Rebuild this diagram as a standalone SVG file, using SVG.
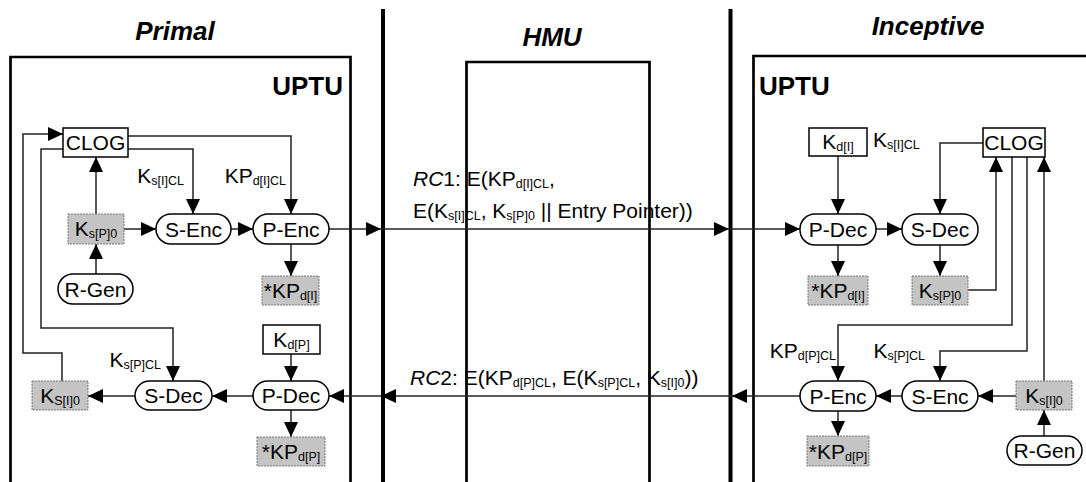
<svg xmlns="http://www.w3.org/2000/svg" width="1086" height="482" viewBox="0 0 1086 482">
<style>
text{font-family:"Liberation Sans",Arial,sans-serif;fill:#000}
.t{font-size:21px}
.title{font-size:26px;font-weight:bold;font-style:italic}
.uptu{font-size:26px;font-weight:bold}
.sub{font-size:12.5px}
.box{fill:#fff;stroke:#000;stroke-width:1.5}
.gbox{fill:#c4c4c4;stroke:#777;stroke-width:1;stroke-dasharray:2 1}
.rnd{fill:#fff;stroke:#000;stroke-width:1.5}
.thick{stroke:#000;stroke-width:4;fill:none}
.frame{stroke:#000;stroke-width:2.7;fill:none}
.c{stroke:#222;stroke-width:1.5;fill:none}
.ca{stroke:#222;stroke-width:1.5;fill:none;marker-end:url(#ah)}
</style>
<defs>
<marker id="ah" markerUnits="userSpaceOnUse" markerWidth="15" markerHeight="14" refX="15" refY="7" orient="auto">
<path d="M0,0 L15,7 L0,14 z" fill="#000"/>
</marker>
</defs>
<rect width="1086" height="482" fill="#fff"/>

<g id="frames">
<path class="thick" d="M383,9 V482"/>
<path class="thick" d="M730.5,9 V482"/>
<path class="frame" d="M10.5,485 V57 H350.5 V485"/>
<path class="frame" d="M466.5,485 V62 H649.5 V485"/>
<path class="frame" d="M753.5,485 V56 H1090"/>
<text class="title" x="175" y="40" text-anchor="middle">Primal</text>
<text class="title" x="552" y="46" text-anchor="middle">HMU</text>
<text class="title" x="928" y="35" text-anchor="middle">Inceptive</text>
<text class="uptu" x="343" y="95" text-anchor="end">UPTU</text>
<text class="uptu" x="759" y="95">UPTU</text>
</g>

<g id="connectors">
<path class="ca" d="M96,214 V157"/>
<path class="ca" d="M96,274 V244"/>
<path class="ca" d="M124,229 H156"/>
<path class="ca" d="M231,229 H253"/>
<path class="ca" d="M128,136 H291 V214"/>
<path class="ca" d="M128,149 H193 V214"/>
<path class="ca" d="M63,149 H41 V328 H173 V381"/>
<path class="ca" d="M62,381 V353 H23 V134 H63"/>
<path class="ca" d="M291,244 V276"/>
<path class="ca" d="M329,229 H381"/>
<path class="ca" d="M381,229 H729"/>
<path class="ca" d="M729,229 H800"/>
<path class="ca" d="M291,354 V381"/>
<path class="ca" d="M253,396 H212"/>
<path class="ca" d="M135,396 H88"/>
<path class="ca" d="M291,410 V437"/>

<path class="ca" d="M838,156 V214"/>
<path class="ca" d="M983,143 H940 V214"/>
<path class="ca" d="M876,229 H902"/>
<path class="ca" d="M838,245 V276"/>
<path class="ca" d="M940,245 V276"/>
<path class="ca" d="M968,290 H996 V157"/>
<path class="ca" d="M1012,157 V325 H838 V381"/>
<path class="ca" d="M1027,157 V351 H940 V381"/>
<path class="ca" d="M1044,381 V157"/>
<path class="ca" d="M1044,436 V410"/>
<path class="ca" d="M1016,396 H978"/>
<path class="ca" d="M902,396 H876"/>
<path class="ca" d="M838,411 V436"/>
<path class="ca" d="M800,396 H732"/>
<path class="ca" d="M732,396 H381"/>
<path class="ca" d="M381,396 H329"/>

<text class="t" x="184" y="183" text-anchor="end">K<tspan class="sub" dy="2">s[I]CL</tspan></text>
<text class="t" x="286" y="183" text-anchor="end">KP<tspan class="sub" dy="2">d[I]CL</tspan></text>
<text class="t" x="161" y="367" text-anchor="end">K<tspan class="sub" dy="2">s[P]CL</tspan></text>
<text class="t" x="873" y="147">K<tspan class="sub" dy="2">s[I]CL</tspan></text>
<text class="t" x="836" y="358" text-anchor="end">KP<tspan class="sub" dy="2">d[P]CL</tspan></text>
<text class="t" x="925" y="358" text-anchor="end">K<tspan class="sub" dy="2">s[P]CL</tspan></text>

<text class="t" x="413" y="186"><tspan font-style="italic">RC</tspan>1: E(KP<tspan class="sub" dy="2">d[I]CL</tspan><tspan dy="-2">,</tspan></text>
<text class="t" x="413" y="218">E(K<tspan class="sub" dy="2">s[I]CL</tspan><tspan dy="-2">, K</tspan><tspan class="sub" dy="2">s[P]0</tspan><tspan dy="-2"> || Entry Pointer))</tspan></text>
<text class="t" x="410" y="385"><tspan font-style="italic">RC</tspan>2: E(KP<tspan class="sub" dy="2">d[P]CL</tspan><tspan dy="-2">, E(K</tspan><tspan class="sub" dy="2">s[P]CL</tspan><tspan dy="-2">, K</tspan><tspan class="sub" dy="2">s[I]0</tspan><tspan dy="-2">))</tspan></text>
</g>

<g id="p-clog"><rect class="box" x="63" y="128" width="65" height="29"/><text class="t" x="95.5" y="150" text-anchor="middle">CLOG</text></g>
<g id="p-ksp0"><rect class="gbox" x="68" y="214" width="56" height="30"/><text class="t" x="96" y="236" text-anchor="middle">K<tspan class="sub" dy="2">s[P]0</tspan></text></g>
<g id="p-rgen"><rect class="rnd" x="58" y="274" width="75" height="30" rx="15"/><text class="t" x="95.5" y="296.5" text-anchor="middle">R-Gen</text></g>
<g id="p-senc"><rect class="rnd" x="156" y="214" width="75" height="30" rx="15"/><text class="t" x="193.5" y="236.5" text-anchor="middle">S-Enc</text></g>
<g id="p-penc"><rect class="rnd" x="253" y="214" width="76" height="30" rx="15"/><text class="t" x="291" y="236.5" text-anchor="middle">P-Enc</text></g>
<g id="p-kpdi"><rect class="gbox" x="262" y="276" width="57" height="29"/><text class="t" x="290.5" y="298" text-anchor="middle">*KP<tspan class="sub" dy="2">d[I]</tspan></text></g>
<g id="p-kdp"><rect class="box" x="263" y="325" width="57" height="29"/><text class="t" x="291.5" y="347" text-anchor="middle">K<tspan class="sub" dy="2">d[P]</tspan></text></g>
<g id="p-pdec"><rect class="rnd" x="253" y="381" width="76" height="29" rx="14.5"/><text class="t" x="291" y="403" text-anchor="middle">P-Dec</text></g>
<g id="p-sdec"><rect class="rnd" x="135" y="381" width="77" height="29" rx="14.5"/><text class="t" x="173.5" y="403" text-anchor="middle">S-Dec</text></g>
<g id="p-ksi0"><rect class="gbox" x="32" y="381" width="56" height="29"/><text class="t" x="60" y="403" text-anchor="middle">K<tspan class="sub" dy="2">S[I]0</tspan></text></g>
<g id="p-kpdp"><rect class="gbox" x="257" y="437" width="68" height="29"/><text class="t" x="291" y="459" text-anchor="middle">*KP<tspan class="sub" dy="2">d[P]</tspan></text></g>

<g id="i-kdi"><rect class="box" x="809" y="128" width="58" height="28"/><text class="t" x="838" y="149" text-anchor="middle">K<tspan class="sub" dy="2">d[I]</tspan></text></g>
<g id="i-clog"><rect class="box" x="983" y="128" width="62" height="29"/><text class="t" x="1014" y="150" text-anchor="middle">CLOG</text></g>
<g id="i-pdec"><rect class="rnd" x="800" y="214" width="76" height="31" rx="15"/><text class="t" x="838" y="237" text-anchor="middle">P-Dec</text></g>
<g id="i-sdec"><rect class="rnd" x="902" y="214" width="76" height="31" rx="15"/><text class="t" x="940" y="237" text-anchor="middle">S-Dec</text></g>
<g id="i-kpdi"><rect class="gbox" x="808" y="276" width="60" height="29"/><text class="t" x="838" y="298" text-anchor="middle">*KP<tspan class="sub" dy="2">d[I]</tspan></text></g>
<g id="i-ksp0"><rect class="gbox" x="912" y="276" width="56" height="29"/><text class="t" x="940" y="298" text-anchor="middle">K<tspan class="sub" dy="2">s[P]0</tspan></text></g>
<g id="i-penc"><rect class="rnd" x="800" y="381" width="76" height="30" rx="15"/><text class="t" x="838" y="403.5" text-anchor="middle">P-Enc</text></g>
<g id="i-senc"><rect class="rnd" x="902" y="381" width="76" height="30" rx="15"/><text class="t" x="940" y="403.5" text-anchor="middle">S-Enc</text></g>
<g id="i-ksi0"><rect class="gbox" x="1016" y="381" width="56" height="29"/><text class="t" x="1044" y="403" text-anchor="middle">K<tspan class="sub" dy="2">s[I]0</tspan></text></g>
<g id="i-rgen"><rect class="rnd" x="1007" y="436" width="75" height="29" rx="14.5"/><text class="t" x="1044.5" y="458" text-anchor="middle">R-Gen</text></g>
<g id="i-kpdp"><rect class="gbox" x="807" y="436" width="62" height="30"/><text class="t" x="838" y="458.5" text-anchor="middle">*KP<tspan class="sub" dy="2">d[P]</tspan></text></g>
</svg>
